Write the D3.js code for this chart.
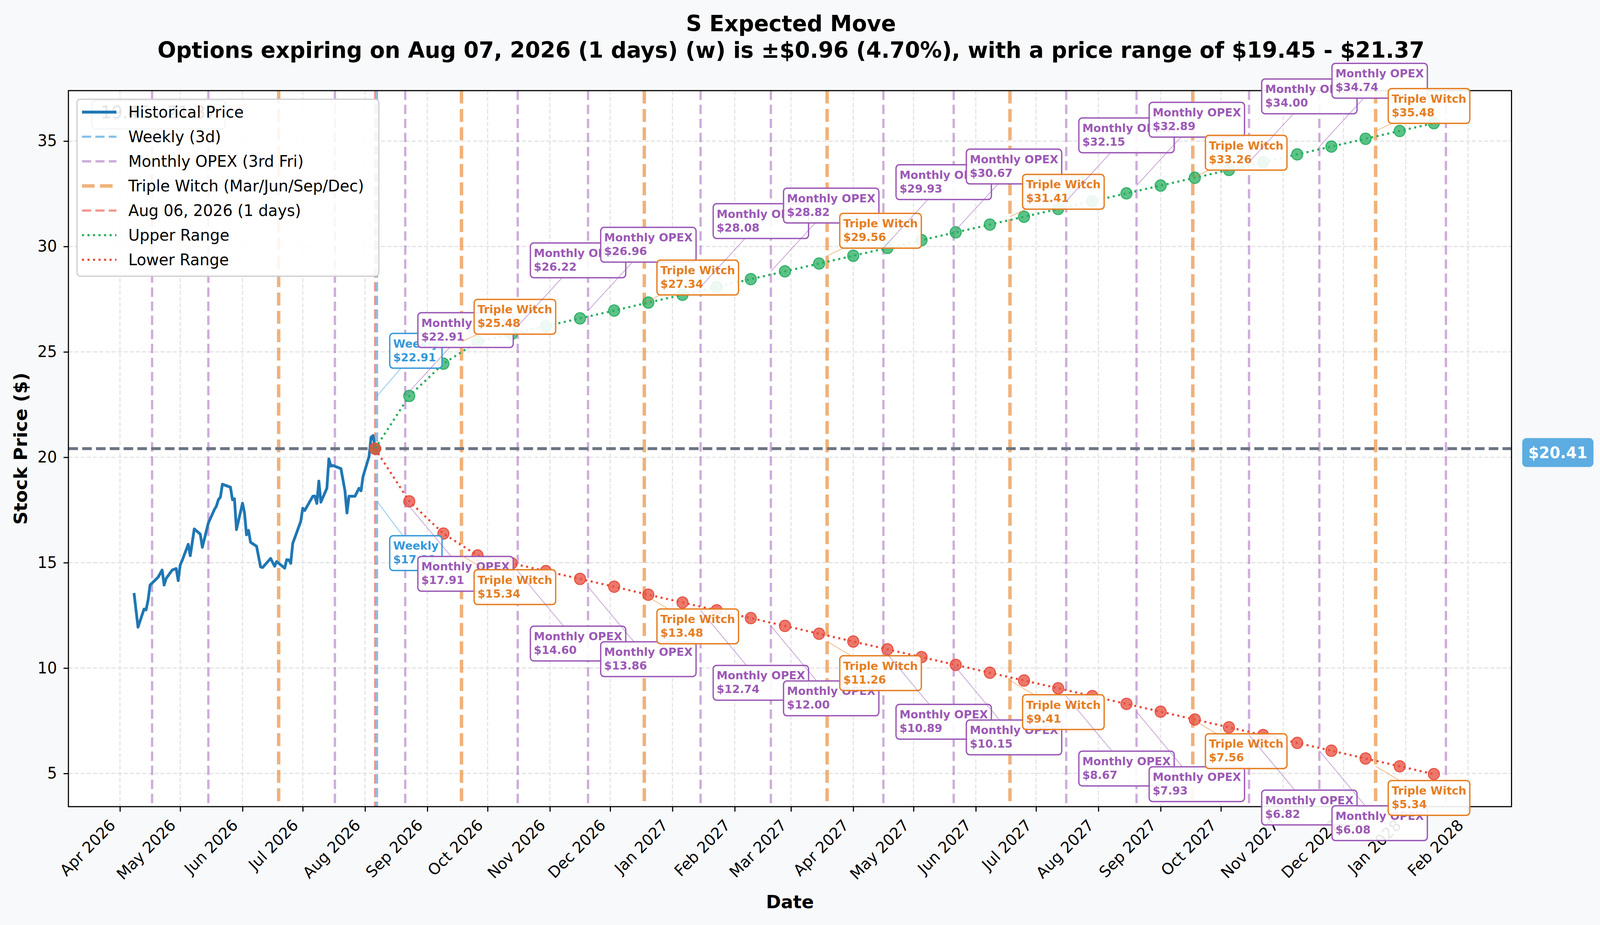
<!DOCTYPE html>
<html>
<head>
<meta charset="utf-8">
<script src="https://cdn.jsdelivr.net/npm/d3@7"></script>
<style>
  html, body { margin: 0; padding: 0; background: #f8f9fa; overflow: hidden; }
  svg { display: block; width: 100vw; height: 100vh; font-family: "DejaVu Sans", sans-serif; }
</style>
</head>
<body>
<svg id="chart" viewBox="0 0 4177 2368" preserveAspectRatio="none"></svg>
<script>
// ====================================================================================
// === Data

var titleLines = [
  'S Expected Move',
  'Options expiring on Aug 07, 2026 (1 days) (w) is \u00b1$0.96 (4.70%), with a price range of $19.45 - $21.37'
];

var currentPrice = 20.41,
    currentDate = '2026-08-06',
    weeklyDate = '2026-08-07',
    rangeText = '19.45 - 21.37';

var histDates = [
  '2026-04-08','2026-04-10','2026-04-13','2026-04-14','2026-04-15','2026-04-16','2026-04-20',
  '2026-04-22','2026-04-23','2026-04-24','2026-04-27','2026-04-29','2026-04-30','2026-05-01',
  '2026-05-02','2026-05-05','2026-05-06','2026-05-08','2026-05-11','2026-05-12','2026-05-15',
  '2026-05-18','2026-05-19','2026-05-20','2026-05-21','2026-05-22','2026-05-26','2026-05-27',
  '2026-05-28','2026-05-29','2026-06-01','2026-06-02','2026-06-03','2026-06-04','2026-06-05',
  '2026-06-08','2026-06-10','2026-06-11','2026-06-15','2026-06-17','2026-06-18','2026-06-22',
  '2026-06-23','2026-06-24','2026-06-25','2026-06-26','2026-06-30','2026-07-01','2026-07-02',
  '2026-07-06','2026-07-07','2026-07-08','2026-07-09','2026-07-10','2026-07-13','2026-07-14',
  '2026-07-15','2026-07-16','2026-07-20','2026-07-22','2026-07-23','2026-07-24','2026-07-27',
  '2026-07-29','2026-07-30','2026-07-31','2026-08-03','2026-08-04','2026-08-05','2026-08-06'
];
var histPrices = [
  13.56, 11.94, 12.80, 12.76, 13.22, 13.94, 14.31,
  14.65, 13.94, 14.25, 14.65, 14.72, 14.15, 14.89,
  15.11, 15.87, 15.33, 16.60, 16.35, 15.73, 16.88,
  17.52, 17.68, 17.99, 18.11, 18.72, 18.58, 17.99,
  18.03, 16.57, 17.82, 17.37, 16.32, 16.53, 15.97,
  15.78, 14.80, 14.77, 15.20, 14.83, 15.05, 14.74,
  15.14, 15.13, 14.97, 15.91, 16.96, 17.58, 17.48,
  18.15, 18.16, 17.81, 18.87, 17.87, 18.53, 19.92,
  19.58, 19.61, 19.46, 18.41, 17.36, 18.15, 18.15,
  18.53, 18.41, 19.09, 20.04, 20.95, 21.03, 20.41
];

var rangeDates = [
  '2026-08-06','2026-08-23','2026-09-09','2026-09-26','2026-10-13','2026-10-30','2026-11-16',
  '2026-12-03','2026-12-20','2027-01-06','2027-01-23','2027-02-09','2027-02-26','2027-03-15',
  '2027-04-01','2027-04-18','2027-05-05','2027-05-22','2027-06-08','2027-06-25','2027-07-12',
  '2027-07-29','2027-08-15','2027-09-01','2027-09-18','2027-10-05','2027-10-22','2027-11-08',
  '2027-11-25','2027-12-12','2027-12-29','2028-01-15'
];
var upperValues = [
  20.41, 22.91, 24.44, 25.48, 25.85, 26.22, 26.59, 26.96, 27.34, 27.71, 28.08,
  28.45, 28.82, 29.19, 29.56, 29.93, 30.30, 30.67, 31.04, 31.41, 31.78, 32.15,
  32.52, 32.89, 33.26, 33.63, 34.00, 34.37, 34.74, 35.11, 35.48, 35.85
];
var lowerValues = [
  20.41, 17.91, 16.38, 15.34, 14.97, 14.60, 14.23, 13.86, 13.48, 13.11, 12.74,
  12.37, 12.00, 11.63, 11.26, 10.89, 10.52, 10.15, 9.78, 9.41, 9.04, 8.67,
  8.30, 7.93, 7.56, 7.19, 6.82, 6.45, 6.08, 5.71, 5.34, 4.97
];

// 3rd Fridays; Mar/Jun/Sep/Dec are triple witching
var opexDates = [
  '2026-04-17','2026-05-15','2026-06-19','2026-07-17','2026-08-21','2026-09-18','2026-10-16',
  '2026-11-20','2026-12-18','2027-01-15','2027-02-19','2027-03-19','2027-04-16','2027-05-21',
  '2027-06-18','2027-07-16','2027-08-20','2027-09-17','2027-10-15','2027-11-19','2027-12-17',
  '2028-01-21'
];

var labelDates = [
  '2026-08-07','2026-08-21','2026-09-18','2026-10-16','2026-11-20','2026-12-18',
  '2027-01-15','2027-02-19','2027-03-19','2027-04-16','2027-05-21','2027-06-18',
  '2027-07-16','2027-08-20','2027-09-17','2027-10-15','2027-11-19','2027-12-17'
];
var labelKinds = ['W','M','T','M','M','T','M','M','T','M','M','T','M','M','T','M','M','T'];
var labelUpper = [
  22.91, 22.91, 25.48, 26.22, 26.96, 27.34, 28.08, 28.82, 29.56,
  29.93, 30.67, 31.41, 32.15, 32.89, 33.26, 34.00, 34.74, 35.48
];
var labelLower = [
  17.91, 17.91, 15.34, 14.60, 13.86, 13.48, 12.74, 12.00, 11.26,
  10.89, 10.15, 9.41, 8.67, 7.93, 7.56, 6.82, 6.08, 5.34
];

var yTicks = [5, 10, 15, 20, 25, 30, 35];

var legendLabels = [
  'Historical Price', 'Weekly (3d)', 'Monthly OPEX (3rd Fri)', 'Triple Witch (Mar/Jun/Sep/Dec)',
  'Aug 06, 2026 (1 days)', 'Upper Range', 'Lower Range'
];

// ====================================================================================
// === Setup

var W = 4177, H = 2368,
    plot = {left: 178.6, right: 3946, top: 232, bottom: 2065};

var colors = {
  hist: '#1f77b4', weekly: '#3498db', monthly: '#9b59b6', triple: '#e67e22',
  today: '#e74c3c', upper: '#27ae60', lower: '#e74c3c', price: '#6b7482'
};
var kindInfo = {
  W: {name: 'Weekly', color: colors.weekly, off: 124},
  M: {name: 'Monthly OPEX', color: colors.monthly, off: 177},
  T: {name: 'Triple Witch', color: colors.triple, off: 72.5}
};

var parse = d3.utcParse('%Y-%m-%d');
var svg = d3.select('#chart');

svg.append('rect').attr('width', W).attr('height', H).attr('fill', '#f8f9fa');

// x: data span (history start .. last opex line) + 5% padding
var xStart = parse(histDates[0]),
    xEnd = parse(opexDates[opexDates.length - 1]),
    span = xEnd - xStart;
var x = d3.scaleUtc()
  .domain([new Date(+xStart - span * 0.05), new Date(+xEnd + span * 0.05)])
  .range([plot.left, plot.right]);

var allY = upperValues.concat(lowerValues, histPrices),
    yMin = d3.min(allY), yMax = d3.max(allY), yPad = (yMax - yMin) * 0.05;
var y = d3.scaleLinear()
  .domain([yMin - yPad, yMax + yPad])
  .range([plot.bottom, plot.top]);

var monthTicks = x.ticks(d3.utcMonth.every(1));

svg.append('defs').append('clipPath').attr('id', 'clip')
  .append('rect')
  .attr('x', plot.left).attr('y', plot.top)
  .attr('width', plot.right - plot.left).attr('height', plot.bottom - plot.top);

svg.append('rect')
  .attr('x', plot.left).attr('y', plot.top)
  .attr('width', plot.right - plot.left).attr('height', plot.bottom - plot.top)
  .attr('fill', '#ffffff');

var body = svg.append('g').attr('clip-path', 'url(#clip)');

// ====================================================================================
// === Grid

body.append('g').selectAll('line').data(monthTicks).enter().append('line')
  .attr('x1', function (d) { return x(d); }).attr('x2', function (d) { return x(d); })
  .attr('y1', plot.top).attr('y2', plot.bottom)
  .attr('stroke', '#e3e3e3').attr('stroke-width', 2.9).attr('stroke-dasharray', '11 5');

body.append('g').selectAll('line').data(yTicks).enter().append('line')
  .attr('x1', plot.left).attr('x2', plot.right)
  .attr('y1', function (d) { return y(d); }).attr('y2', function (d) { return y(d); })
  .attr('stroke', '#e3e3e3').attr('stroke-width', 2.9).attr('stroke-dasharray', '11 5');

// ====================================================================================
// === Expiry lines

function isTriple (s) {
  var m = parse(s).getUTCMonth();
  return m === 2 || m === 5 || m === 8 || m === 11;
}

body.append('g').selectAll('line').data(opexDates).enter().append('line')
  .attr('x1', function (d) { return x(parse(d)); })
  .attr('x2', function (d) { return x(parse(d)); })
  .attr('y1', plot.top).attr('y2', plot.bottom)
  .attr('stroke', function (d) { return isTriple(d) ? colors.triple : colors.monthly; })
  .attr('stroke-opacity', function (d) { return isTriple(d) ? 0.6 : 0.5; })
  .attr('stroke-width', function (d) { return isTriple(d) ? 9 : 6; })
  .attr('stroke-dasharray', function (d) { return isTriple(d) ? '33 14' : '24 12'; });

body.append('line')
  .attr('x1', x(parse(weeklyDate))).attr('x2', x(parse(weeklyDate)))
  .attr('y1', plot.top).attr('y2', plot.bottom)
  .attr('stroke', colors.weekly).attr('stroke-opacity', 0.6)
  .attr('stroke-width', 5.4).attr('stroke-dasharray', '24 11');

body.append('line')
  .attr('x1', x(parse(currentDate))).attr('x2', x(parse(currentDate)))
  .attr('y1', plot.top).attr('y2', plot.bottom)
  .attr('stroke', colors.today).attr('stroke-opacity', 0.6)
  .attr('stroke-width', 5.4).attr('stroke-dasharray', '24 11');

// ====================================================================================
// === Price history and current price

var histLine = d3.line()
  .x(function (d, i) { return x(parse(histDates[i])); })
  .y(function (d) { return y(d); });

body.append('path').datum(histPrices)
  .attr('d', histLine)
  .attr('fill', 'none').attr('stroke', colors.hist)
  .attr('stroke-width', 7.3).attr('stroke-linejoin', 'round');

body.append('line')
  .attr('x1', plot.left).attr('x2', plot.right)
  .attr('y1', y(currentPrice)).attr('y2', y(currentPrice))
  .attr('stroke', colors.price).attr('stroke-width', 7.3)
  .attr('stroke-dasharray', '25 11');

// ====================================================================================
// === Expected range

function drawRange (values, color) {
  body.append('g').selectAll('circle').data(values).enter().append('circle')
    .attr('cx', function (d, i) { return x(parse(rangeDates[i])); })
    .attr('cy', function (d) { return y(d); })
    .attr('r', 14.5)
    .attr('fill', color).attr('fill-opacity', 0.75)
    .attr('stroke', color).attr('stroke-width', 2.5);
}

function drawRangeLine (values, color) {
  var line = d3.line()
    .x(function (d, i) { return x(parse(rangeDates[i])); })
    .y(function (d) { return y(d); });
  body.append('path').datum(values)
    .attr('d', line)
    .attr('fill', 'none').attr('stroke', color)
    .attr('stroke-width', 5.4).attr('stroke-dasharray', '5.4 9');
}

drawRange(upperValues, colors.upper);
drawRange(lowerValues, colors.lower);
drawRangeLine(upperValues, colors.upper);
drawRangeLine(lowerValues, colors.lower);

// ====================================================================================
// === Axes

var xAxis = svg.append('g')
  .attr('transform', 'translate(0,' + plot.bottom + ')')
  .call(d3.axisBottom(x).tickValues(monthTicks)
    .tickFormat(d3.utcFormat('%b %Y')).tickSize(12.7).tickSizeOuter(0));
xAxis.select('.domain').remove();
xAxis.selectAll('line').attr('stroke', '#000').attr('stroke-width', 2.9);
xAxis.selectAll('text')
  .attr('x', 0).attr('y', 0).attr('dy', null)
  .attr('transform', 'translate(-10,50) rotate(-45)')
  .attr('text-anchor', 'end')
  .attr('font-size', 40).attr('font-family', 'DejaVu Sans').attr('fill', '#000');

var yAxis = svg.append('g')
  .attr('transform', 'translate(' + plot.left + ',0)')
  .call(d3.axisLeft(y).tickValues(yTicks).tickSize(12.7).tickSizeOuter(0).tickPadding(17));
yAxis.select('.domain').remove();
yAxis.selectAll('line').attr('stroke', '#000').attr('stroke-width', 2.9);
yAxis.selectAll('text')
  .attr('font-size', 40).attr('font-family', 'DejaVu Sans').attr('fill', '#000');

svg.append('rect')
  .attr('x', plot.left).attr('y', plot.top)
  .attr('width', plot.right - plot.left).attr('height', plot.bottom - plot.top)
  .attr('fill', 'none').attr('stroke', '#000').attr('stroke-width', 2.9);

svg.append('text')
  .attr('x', (plot.left + plot.right) / 2).attr('y', 2325)
  .attr('text-anchor', 'middle').attr('font-size', 47).attr('font-weight', 'bold')
  .text('Date');

svg.append('text')
  .attr('transform', 'translate(70,' + ((plot.top + plot.bottom) / 2) + ') rotate(-90)')
  .attr('text-anchor', 'middle').attr('font-size', 47).attr('font-weight', 'bold')
  .text('Stock Price ($)');

svg.selectAll('.title').data(titleLines).enter().append('text')
  .attr('class', 'title')
  .attr('x', 2065).attr('y', function (d, i) { return 80 + i * 68; })
  .attr('text-anchor', 'middle').attr('font-size', 57).attr('font-weight', 'bold')
  .text(function (d) { return d; });

// current price tag on the right
var tagY = y(currentPrice) + 10;
svg.append('rect')
  .attr('x', 3974).attr('y', tagY - 37).attr('width', 186).attr('height', 74)
  .attr('rx', 11).attr('fill', '#5dade2');
svg.append('text')
  .attr('x', 4067).attr('y', tagY).attr('dy', '0.36em')
  .attr('text-anchor', 'middle').attr('font-size', 40).attr('font-weight', 'bold')
  .attr('fill', '#ffffff')
  .text('$' + currentPrice.toFixed(2));

// ====================================================================================
// === Expiry labels

var labels = svg.append('g');

function drawLabel (dateStr, kind, value, side) {
  var info = kindInfo[kind],
      tx = x(parse(dateStr)),
      ty = y(value),
      base = side === 'up' ? ty - info.off : ty + info.off,
      left = tx + 33,
      top = base - 36,
      g = labels.append('g');

  var arrow = g.append('line');
  var box = g.append('rect');
  var t1 = g.append('text').attr('x', left + 9).attr('y', base)
    .attr('font-size', 29).attr('font-weight', 'bold').attr('fill', info.color)
    .text(info.name);
  var t2 = g.append('text').attr('x', left + 9).attr('y', base + 35)
    .attr('font-size', 29).attr('font-weight', 'bold').attr('fill', info.color)
    .text('$' + value.toFixed(2));

  var w = Math.max(t1.node().getComputedTextLength(), t2.node().getComputedTextLength()) + 18,
      h = 89;
  box.attr('x', left).attr('y', top).attr('width', w).attr('height', h)
    .attr('rx', 9).attr('fill', '#ffffff').attr('fill-opacity', 0.9)
    .attr('stroke', info.color).attr('stroke-width', 3.5);

  // arrow from box centre towards the target, cut at the box edge
  var cx = left + w / 2, cy = top + h / 2,
      dx = tx - cx, dy = ty - cy,
      s = Math.min(Math.abs((w / 2) / dx), Math.abs((h / 2) / dy));
  arrow.attr('x1', cx + dx * s).attr('y1', cy + dy * s)
    .attr('x2', tx).attr('y2', ty)
    .attr('stroke', info.color).attr('stroke-opacity', 0.6).attr('stroke-width', 1.8);
}

labelDates.forEach(function (d, i) {
  drawLabel(d, labelKinds[i], labelUpper[i], 'up');
  drawLabel(d, labelKinds[i], labelLower[i], 'down');
});

// ====================================================================================
// === Range note + legend

svg.append('rect')
  .attr('x', 240).attr('y', 257).attr('width', 348).attr('height', 73)
  .attr('rx', 10).attr('fill', '#fbfbfb').attr('stroke', '#888').attr('stroke-width', 2.5);
svg.append('text')
  .attr('x', 414).attr('y', 303).attr('text-anchor', 'middle')
  .attr('font-size', 45).attr('fill', '#222')
  .text(rangeText);

var legendStyles = [
  {color: colors.hist, width: 7.3, dash: null, opacity: 1},
  {color: colors.weekly, width: 5.4, dash: '24 11', opacity: 0.6},
  {color: colors.monthly, width: 6, dash: '24 11', opacity: 0.5},
  {color: colors.triple, width: 9, dash: '33 14', opacity: 0.6},
  {color: colors.today, width: 5.4, dash: '24 11', opacity: 0.6},
  {color: colors.upper, width: 5.4, dash: '5.4 9', opacity: 1},
  {color: colors.lower, width: 5.4, dash: '5.4 9', opacity: 1}
];

var legend = svg.append('g');
legend.append('rect')
  .attr('x', 201).attr('y', 254).attr('width', 788).attr('height', 453)
  .attr('rx', 9).attr('fill', '#ffffff').attr('fill-opacity', 0.88)
  .attr('stroke', '#cccccc').attr('stroke-width', 3);

var rows = legend.selectAll('.row').data(legendLabels).enter().append('g')
  .attr('class', 'row')
  .attr('transform', function (d, i) { return 'translate(0,' + (287 + i * 63) + ')'; });

rows.append('line')
  .attr('x1', 214).attr('x2', 304).attr('y1', 0).attr('y2', 0)
  .attr('stroke', function (d, i) { return legendStyles[i].color; })
  .attr('stroke-width', function (d, i) { return legendStyles[i].width; })
  .attr('stroke-opacity', function (d, i) { return legendStyles[i].opacity; })
  .attr('stroke-dasharray', function (d, i) { return legendStyles[i].dash; });

rows.append('text')
  .attr('x', 335).attr('y', 0).attr('dy', '0.35em')
  .attr('font-size', 40.5).attr('fill', '#000')
  .text(function (d) { return d; });
</script>
</body>
</html>
